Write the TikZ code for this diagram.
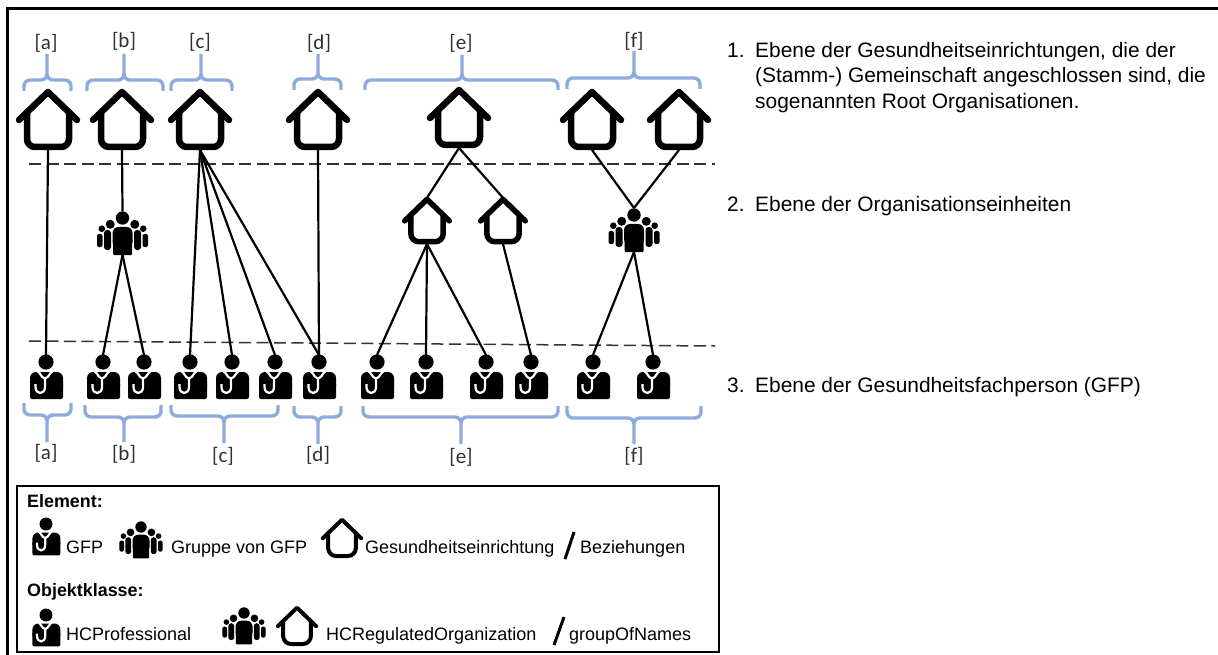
\documentclass[tikz,border=0pt]{standalone}
\usepackage{fontspec}
\setmainfont{Liberation Sans}
\newfontfamily\tagfont{Carlito}
\definecolor{bracketblue}{HTML}{8FAADC}
\definecolor{tagtext}{HTML}{303030}
\definecolor{dashgray}{HTML}{333333}
\tikzset{
 link/.style={line width=2.2pt,black},
 level/.style={line width=1.5pt,dashgray,dash pattern=on 12pt off 5.5pt},
 curly/.style={line width=3.4pt,bracketblue,rounded corners=6pt},
 tag/.style={font=\tagfont\fontsize{21}{23}\selectfont,text=tagtext,inner sep=0pt},
 note/.style={font=\fontsize{20.9}{24}\selectfont,anchor=base west,inner sep=0pt,black},
 legend/.style={font=\fontsize{18}{20}\selectfont,anchor=base west,inner sep=0pt,black},
 legendhead/.style={font=\bfseries\fontsize{17.9}{20}\selectfont,anchor=base west,inner sep=0pt,black},
 pics/house/.style={code={
  \draw[line width=#1,line cap=round,line join=round] (-29,-30)--(0,-58)--(29,-30);
  \draw[line width=#1,rounded corners=8pt] (-21,-38)--(-21,-3)--(21,-3)--(21,-38);
  \coordinate (-top) at (0,-60);
  \coordinate (-bot) at (0,0);
 }},
 pics/doctor/.style={code={
  \fill (0,0) circle (7.6);
  \fill[rounded corners=6pt] (-16,30)--(-16,10)--(17,10)--(17,30)--cycle;
  \fill[rounded corners=2pt] (-16,37)--(-16,20)--(17,20)--(17,37)--cycle;
  \draw[white,line width=2.2pt] (-9,10) to[out=70,in=180] (-1,16.5) to[out=0,in=110] (7,10);
  \draw[white,line width=2.2pt] (-1,16)--(-1,25) .. controls (-1,33) and (-10.5,33) .. (-10.5,25)--(-10.5,22);
  \coordinate (-top) at (0,-7);
 }},
 pics/crowd/.style={code={
  \fill (0,0) circle (6.7);
  \fill[rounded corners=6pt] (-10,30)--(-10,9)--(10,9)--(10,30)--cycle;
  \fill[rounded corners=1pt] (-9.5,37)--(-9.5,20)--(9.5,20)--(9.5,37)--cycle;
  \fill (-12.3,6.3) circle (4.5) (12.3,6.3) circle (4.5);
  \fill (-20.7,10.7) circle (3.3) (20.7,10.7) circle (3.3);
  \fill[rounded corners=3pt] (-18.5,32)--(-18.5,12)--(-11.5,12)--(-11.5,32)--cycle;
  \fill[rounded corners=3pt] (18.5,32)--(18.5,12)--(11.5,12)--(11.5,32)--cycle;
  \fill[rounded corners=2pt] (-25.5,29)--(-25.5,16)--(-20,16)--(-20,29)--cycle;
  \fill[rounded corners=2pt] (25.5,29)--(25.5,16)--(20,16)--(20,29)--cycle;
  \coordinate (-top) at (0,-7);
  \coordinate (-bot) at (0,37);
 }}
}
\newcommand{\curlybracket}[6]{\draw[curly] (#1,#4)--(#1,#5)--(#2,#5)--(#2,#6) (#3,#4)--(#3,#5)--(#2,#5)--(#2,#6);}
\begin{document}
\begin{tikzpicture}[x=1pt,y=-1pt]
 \useasboundingbox (0,0) rectangle (1218,655);
 \draw[line width=3pt] (7.5,655)--(7.5,9)--(1218,9);
 % levels
 \draw[level] (29,164)--(715,164);
 \draw[level] (29,341)--(715,346);
 % top brackets
 \curlybracket{24}{47}{71}{91}{80}{54}
 \curlybracket{87}{124}{163}{91}{80}{54}
 \curlybracket{171}{201}{232}{91}{80}{54}
 \curlybracket{294}{318}{341}{90}{79}{54}
 \curlybracket{365}{462}{558}{90}{80}{55}
 \curlybracket{567}{634}{700}{89}{78}{51}
 \node[tag] (ta) at (46,43) {[a]};
 \node[tag] (tb) at (124,41) {[b]};
 \node[tag] (tc) at (200,42) {[c]};
 \node[tag] (td) at (319,43) {[d]};
 \node[tag] (te) at (461,43) {[e]};
 \node[tag] (tf) at (634,41) {[f]};
 % level 1
 \pic (ha) at (48,150) {house=6.5pt};
 \pic (hb) at (122,150) {house=6.5pt};
 \pic (hc) at (200,150) {house=6.5pt};
 \pic (hd) at (318,150) {house=6.5pt};
 \pic (he) at (459,148) {house=6.5pt};
 \pic (hfa) at (592,150) {house=6.5pt};
 \pic (hfb) at (679,150) {house=6.5pt};
 % level 2
 \pic[scale=.77] (hea) at (427,244) {house=5.5pt};
 \pic[scale=.77] (heb) at (503,244) {house=5.5pt};
 \pic (gb) at (122.5,218) {crowd};
 \pic (gf) at (634,215) {crowd};
 % level 3
 \pic (da) at (46,362) {doctor};
 \pic (dba) at (103,362) {doctor};
 \pic (dbb) at (144,362) {doctor};
 \pic (dca) at (190,362) {doctor};
 \pic (dcb) at (232,362) {doctor};
 \pic (dcc) at (275,362) {doctor};
 \pic (dd) at (319,362) {doctor};
 \pic (dea) at (377,362) {doctor};
 \pic (deb) at (426,362) {doctor};
 \pic (dec) at (486,362) {doctor};
 \pic (ded) at (531,362) {doctor};
 \pic (dfa) at (593,362) {doctor};
 \pic (dfb) at (653,362) {doctor};
 % relations
 \draw[link] (ha-bot)--(da-top);
 \draw[link] (hb-bot)--(gb-top);
 \draw[link] (gb-bot)--(dba-top);
 \draw[link] (gb-bot)--(dbb-top);
 \draw[link] (hc-bot)--(dca-top);
 \draw[link] (hc-bot)--(dcb-top);
 \draw[link] (hc-bot)--(dcc-top);
 \draw[link] (hc-bot)--(dd-top);
 \draw[link] (hd-bot)--(dd-top);
 \draw[link] (he-bot)--(hea-top);
 \draw[link] (he-bot)--(heb-top);
 \draw[link] (hea-bot)--(dea-top);
 \draw[link] (hea-bot)--(deb-top);
 \draw[link] (hea-bot)--(dec-top);
 \draw[link] (heb-bot)--(ded-top);
 \draw[link] (hfa-bot)--(gf-top);
 \draw[link] (hfb-bot)--(gf-top);
 \draw[link] (gf-bot)--(dfa-top);
 \draw[link] (gf-bot)--(dfb-top);
 % bottom brackets
 \curlybracket{24}{47}{71}{403}{415}{442}
 \curlybracket{85}{124}{161}{405}{417}{442}
 \curlybracket{171}{224}{278}{405}{416}{443}
 \curlybracket{294}{318}{341}{406}{417}{444}
 \curlybracket{363}{461}{558}{406}{417}{444}
 \curlybracket{567}{634}{701}{406}{418}{444}
 \node[tag] (ba) at (46,453) {[a]};
 \node[tag] (bb) at (124,454) {[b]};
 \node[tag] (bc) at (223,456) {[c]};
 \node[tag] (bd) at (318,455) {[d]};
 \node[tag] (be) at (461,457) {[e]};
 \node[tag] (bf) at (634,456) {[f]};
 % level texts
 \node[note] (na) at (727,58) {1.};
 \node[note] (nb) at (755,58) {Ebene der Gesundheitseinrichtungen, die der};
 \node[note] (nc) at (755,83) {(Stamm-) Gemeinschaft angeschlossen sind, die};
 \node[note] (nd) at (755,109) {sogenannten Root Organisationen.};
 \node[note] (ne) at (727,212) {2.};
 \node[note] (nf) at (755,212) {Ebene der Organisationseinheiten};
 \node[note] (ng) at (727,392) {3.};
 \node[note] (nh) at (755,392) {Ebene der Gesundheitsfachperson (GFP)};
 % legend
 \draw[line width=2.5pt] (17,486) rectangle (719,652);
 \node[legendhead] (le) at (27,507) {Element:};
 \pic[scale=.85] (lda) at (46,524) {doctor};
 \node[legend] (lga) at (66,553) {GFP};
 \pic[scale=.85] (lca) at (141,527) {crowd};
 \node[legend] (lgb) at (171,553) {Gruppe von GFP};
 \pic[scale=.66] (lha) at (342,558) {house=4pt};
 \node[legend] (lgc) at (365,553) {Gesundheitseinrichtung};
 \coordinate (saa) at (574,532);
 \coordinate (sab) at (565,559);
 \draw[line width=3pt] (saa)--(sab);
 \node[legend] (lgd) at (580,553) {Beziehungen};
 \node[legendhead] (lo) at (27,596) {Objektklasse:};
 \pic[scale=.85] (ldb) at (46,615) {doctor};
 \node[legend] (lhe) at (66,640) {HCProfessional};
 \pic[scale=.85] (lcb) at (244,613) {crowd};
 \pic[scale=.66] (lhb) at (297,646) {house=4pt};
 \node[legend] (lhc) at (326,640) {HCRegulatedOrganization};
 \coordinate (sba) at (564,617);
 \coordinate (sbb) at (554,645);
 \draw[line width=3pt] (sba)--(sbb);
 \node[legend] (lhd) at (569,640) {groupOfNames};
\end{tikzpicture}
\end{document}
